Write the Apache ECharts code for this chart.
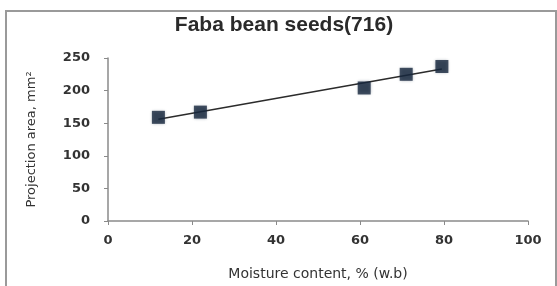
<!DOCTYPE html>
<html>
<head>
<meta charset="utf-8">
<script src="https://cdn.jsdelivr.net/npm/echarts@6/dist/echarts.min.js"></script>
<style>
  html, body { margin: 0; padding: 0; background: #fff; }
  #chart { width: 557px; height: 286px; }
</style>
</head>
<body>
<div id="chart"></div>
<script>
// moisture content (% w.b) vs projection area (mm2)
var moisture = [12, 22, 61, 71, 79.5];
var area = [159, 167, 204, 225, 237];
// trendline ends
var trendX = [12, 79.5];
var trendY = [156, 233];
var xTicks = [0, 20, 40, 60, 80, 100];
var yTicks = [0, 50, 100, 150, 200, 250];

var points = moisture.map(function (m, i) { return [m, area[i]]; });
var trend = trendX.map(function (m, i) { return [m, trendY[i]]; });

var font = "DejaVu Sans";
var myChart = echarts.init(document.getElementById("chart"));
myChart.setOption({
  backgroundColor: "#fff",
  animation: false,
  title: {
    text: "Faba bean seeds(716)",
    left: 279,
    top: 10,
    textAlign: "center",
    textStyle: { fontFamily: "Liberation Sans", fontSize: 21, fontWeight: "bold", color: "#2a2a2a" }
  },
  graphic: [
    {
      type: "rect",
      shape: { x: 6, y: 11, width: 550, height: 300 },
      style: { fill: null, stroke: "#9a9a9a", lineWidth: 2 },
      z: -1
    }
  ],
  grid: { left: 108, right: 29, top: 58, bottom: 60 },
  xAxis: {
    type: "value",
    min: xTicks[0],
    max: xTicks[xTicks.length - 1],
    interval: 20,
    name: "Moisture content, % (w.b)",
    nameLocation: "middle",
    nameGap: 46,
    nameTextStyle: { fontFamily: font, fontSize: 14, color: "#333" },
    axisLine: { lineStyle: { color: "#8a8a8a", width: 1.5 } },
    axisTick: { show: true, length: 4, lineStyle: { color: "#8a8a8a" } },
    axisLabel: { fontFamily: font, fontSize: 13, fontWeight: "bold", color: "#333", margin: 13 },
    splitLine: { show: false }
  },
  yAxis: {
    type: "value",
    min: yTicks[0],
    max: yTicks[yTicks.length - 1],
    interval: 50,
    name: "Projection area, mm²",
    nameLocation: "middle",
    nameGap: 70,
    nameTextStyle: { fontFamily: font, fontSize: 13, color: "#333" },
    axisLine: { show: true, lineStyle: { color: "#8a8a8a", width: 1.5 } },
    axisTick: { show: true, length: 4, lineStyle: { color: "#8a8a8a" } },
    axisLabel: { fontFamily: font, fontSize: 13, fontWeight: "bold", color: "#333", margin: 18 },
    splitLine: { show: false }
  },
  series: [
    {
      name: "trend",
      type: "line",
      data: trend,
      symbol: "none",
      lineStyle: { color: "#2b2b2b", width: 1.5 },
      z: 2
    },
    {
      name: "area",
      type: "scatter",
      data: points,
      symbol: "rect",
      symbolSize: 13,
      itemStyle: { color: "#17273d", shadowBlur: 3, shadowColor: "rgba(23,39,61,0.5)" },
      z: 3
    }
  ]
});
</script>
</body>
</html>
